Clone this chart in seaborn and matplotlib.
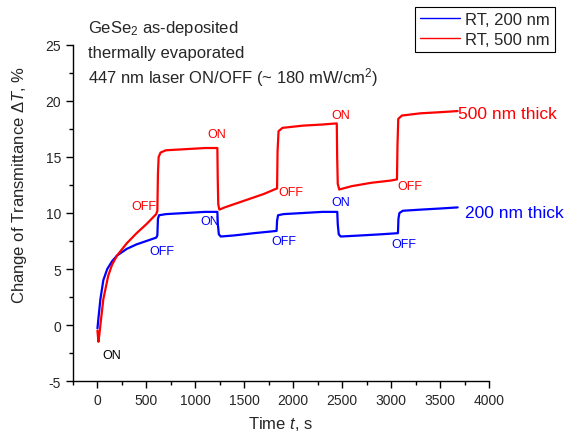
import matplotlib
matplotlib.use('Agg')
import matplotlib.pyplot as plt
from matplotlib.lines import Line2D
from matplotlib.ticker import MultipleLocator
import pandas as pd
import seaborn as sns

# ---------- data ----------
t_200 = [0, 10, 30, 60, 100, 150, 200, 300, 400, 500, 600, 612, 618, 630, 700, 900,
         1100, 1225, 1230, 1240, 1260, 1400, 1600, 1830, 1835, 1845, 1900, 2100, 2300,
         2450, 2455, 2465, 2485, 2700, 2900, 3070, 3075, 3085, 3120, 3300, 3500, 3680]
dT_200 = [-0.3, 0.6, 2.3, 4.0, 5.0, 5.7, 6.2, 6.8, 7.2, 7.5, 7.8, 8.0, 9.5, 9.8, 9.9, 10.0,
          10.1, 10.1, 9.0, 8.1, 7.9, 8.0, 8.2, 8.4, 9.3, 9.8, 9.9, 10.0, 10.1,
          10.1, 9.0, 8.1, 7.9, 8.0, 8.1, 8.2, 9.5, 10.0, 10.2, 10.3, 10.4, 10.5]

t_500 = [0, 10, 20, 30, 60, 110, 150, 200, 300, 400, 500, 600, 612, 618, 625, 645, 700,
         900, 1100, 1225, 1229, 1234, 1245, 1300, 1500, 1700, 1835, 1840, 1850, 1890,
         2100, 2300, 2445, 2449, 2455, 2470, 2600, 2800, 3000, 3060, 3065, 3073, 3110,
         3300, 3500, 3680]
dT_500 = [-0.5, -1.5, -0.8, 0.0, 2.3, 4.4, 5.4, 6.2, 7.3, 8.2, 9.0, 9.9, 10.2, 13.5, 15.0, 15.4, 15.6,
          15.7, 15.8, 15.8, 13.0, 10.8, 10.3, 10.5, 11.1, 11.7, 12.2, 15.5, 17.3, 17.6,
          17.8, 17.9, 18.0, 15.0, 12.6, 12.1, 12.4, 12.7, 12.9, 13.0, 16.0, 18.4, 18.7,
          18.9, 19.0, 19.1]

# annotations: (text, t, dT)
labels_200 = [('OFF', 663, 6.6), ('ON', 1150, 9.3), ('OFF', 1908, 7.5),
              ('ON', 2490, 11.0), ('OFF', 3133, 7.2)]
labels_500 = [('OFF', 470, 10.6), ('ON', 1215, 17.05), ('OFF', 1980, 11.9),
              ('ON', 2490, 18.75), ('OFF', 3195, 12.4)]

df = pd.concat([
    pd.DataFrame({'t': t_200, 'dT': dT_200, 'sample': 'RT, 200 nm'}),
    pd.DataFrame({'t': t_500, 'dT': dT_500, 'sample': 'RT, 500 nm'}),
])
palette = {'RT, 200 nm': '#0000ff', 'RT, 500 nm': '#ff0000'}

# ---------- style ----------
sns.set_style('ticks')
plt.rcParams['font.family'] = ['Liberation Sans', 'DejaVu Sans']
plt.rcParams['mathtext.fontset'] = 'custom'
plt.rcParams['mathtext.rm'] = 'Liberation Sans'
plt.rcParams['mathtext.it'] = 'Liberation Sans:italic'
plt.rcParams['axes.unicode_minus'] = False

fig = plt.figure(figsize=(5.64, 4.35), dpi=100)
ax = fig.add_axes([0.1294, 0.1218, 0.7376, 0.7725])

sns.lineplot(data=df, x='t', y='dT', hue='sample', palette=palette, estimator=None,
             sort=False, linewidth=1.6, legend=False, ax=ax)

ax.set_xlim(-250, 4000)
ax.set_ylim(-5, 25)
ax.xaxis.set_major_locator(MultipleLocator(500))
ax.xaxis.set_minor_locator(MultipleLocator(250))
ax.yaxis.set_major_locator(MultipleLocator(5))
ax.yaxis.set_minor_locator(MultipleLocator(2.5))
ax.tick_params(which='major', direction='out', length=5, width=1, labelsize=10, color='black')
ax.tick_params(which='minor', direction='out', length=3, width=1, color='black')
for side in ['top', 'right']:
    ax.spines[side].set_visible(False)
for side in ['left', 'bottom']:
    ax.spines[side].set_linewidth(1)
    ax.spines[side].set_color('black')

ax.set_xlabel('Time $t$, s', fontsize=12)
ax.set_ylabel('Change of Transmittance $\\mathit{\\Delta T}$, %', fontsize=12)
ax.xaxis.set_label_coords(0.5, -0.098)
ax.yaxis.set_label_coords(-0.106, 0.586)

# ON/OFF annotations
for txt, x, y in labels_200:
    ax.text(x, y, txt, color='#0000ff', fontsize=9, ha='center', va='center')
for txt, x, y in labels_500:
    ax.text(x, y, txt, color='#ff0000', fontsize=9, ha='center', va='center')
ax.text(150, -2.7, 'ON', color='black', fontsize=9, ha='center', va='center')
ax.text(3684, 18.9, '500 nm thick', color='#ff0000', fontsize=12.5, ha='left', va='center')
ax.text(3755, 10.0, '200 nm thick', color='#0000ff', fontsize=12.5, ha='left', va='center')

# header text
fig.text(88 / 564, 1 - 33 / 435, 'GeSe$_2$ as-deposited', fontsize=12, va='baseline')
fig.text(88 / 564, 1 - 58 / 435, 'thermally evaporated', fontsize=12, va='baseline')
fig.text(88 / 564, 1 - 83 / 435, '447 nm laser ON/OFF (~ 180 mW/cm$^2$)', fontsize=12,
         va='baseline')

handles = [Line2D([], [], color=palette[k], lw=1) for k in palette]
leg = fig.legend(handles, list(palette), loc='upper right',
                 bbox_to_anchor=(555 / 564, 1 - 8 / 435), bbox_transform=fig.transFigure,
                 borderaxespad=0, fontsize=12, frameon=True, fancybox=False,
                 framealpha=1, edgecolor='black', handlelength=2.4,
                 handletextpad=0.3, labelspacing=0.3, borderpad=0.3)
leg.get_frame().set_linewidth(0.8)

fig.savefig('out.png', dpi=100)
